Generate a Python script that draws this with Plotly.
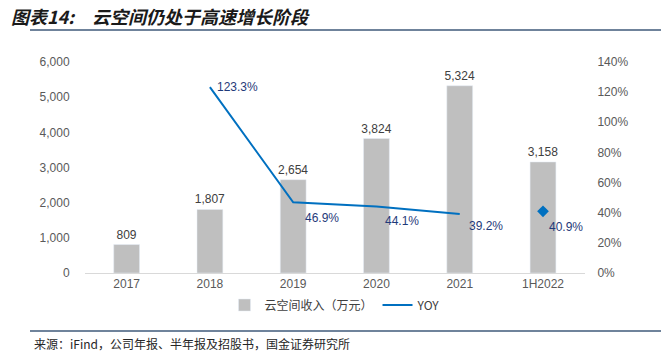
import plotly.graph_objects as go

categories = ["2017", "2018", "2019", "2020", "2021", "1H2022"]
revenue = [809, 1807, 2654, 3824, 5324, 3158]
yoy_line = [None, 1.233, 0.469, 0.441, 0.392, None]
yoy_point = [None, None, None, None, None, 0.409]
# label offsets (px) for YOY labels
yoy_xshift = [0, 5, 10, 7, 7, 4]
yoy_yshift = [0, 0, -16, -14, -12, -16]

FONT = "Liberation Sans, Arial, sans-serif"
CJK = "Noto Sans CJK SC, sans-serif"

OFF = 8  # default page body margin
W, H = 669 - OFF, 360 - OFF
# plot area in reference page pixels
PX0, PX1, PY0, PY1 = 85, 585, 62, 273
L, R, T, B = PX0 - OFF, W - (PX1 - OFF), PY0 - OFF, H - (PY1 - OFF)
pw, ph = PX1 - PX0, PY1 - PY0


def px_x(p):
    return (p - PX0) / pw


def px_y(p):
    return (PY1 - p) / ph


fig = go.Figure()
fig.add_trace(go.Bar(
    x=categories, y=revenue, name="云空间收入（万元）",
    marker=dict(color="#BFBFBF"), width=0.31,
    text=[f"{v:,}" for v in revenue], textposition="outside", constraintext="none",
    textfont=dict(color="#404040", size=12, family=FONT),
    cliponaxis=False,
))
fig.add_trace(go.Scatter(
    x=categories, y=yoy_line, name="YOY", yaxis="y2", mode="lines",
    line=dict(color="#0070C0", width=2),
    cliponaxis=False,
))
fig.add_trace(go.Scatter(
    x=categories, y=yoy_point, yaxis="y2", mode="markers", showlegend=False,
    marker=dict(symbol="diamond", color="#0070C0", size=9),
    cliponaxis=False,
))

annotations = []
for i, c in enumerate(categories):
    v = yoy_line[i] if yoy_line[i] is not None else yoy_point[i]
    if v is None:
        continue
    annotations.append(dict(
        x=i, y=v, xref="x", yref="y2", text=f"{v*100:.1f}%", showarrow=False,
        xanchor="left", yanchor="middle", xshift=yoy_xshift[i], yshift=yoy_yshift[i],
        font=dict(color="#1F3A7A", size=12, family=FONT),
    ))

annotations += [
    dict(text="<b><i>图表14:　云空间仍处于高速增长阶段</i></b>", xref="paper", yref="paper",
         x=px_x(9), y=px_y(16), xanchor="left", yanchor="middle", showarrow=False,
         font=dict(family=CJK, size=18, color="#1a1a1a")),
    dict(text="来源：iFind，公司年报、半年报及招股书，国金证券研究所", xref="paper", yref="paper",
         x=px_x(32), y=px_y(343), xanchor="left", yanchor="middle", showarrow=False,
         font=dict(family=CJK, size=12, color="#262626")),
]

fig.update_layout(
    width=W, height=H,
    margin=dict(l=L, r=R, t=T, b=B, autoexpand=False),
    paper_bgcolor="white", plot_bgcolor="white",
    font=dict(family=FONT, color="#595959", size=12),
    xaxis=dict(
        type="category",
        showgrid=False, showline=True, linecolor="#D9D9D9", linewidth=1,
        tickfont=dict(size=12, color="#595959"), ticks="", zeroline=False,
        automargin=False,
    ),
    yaxis=dict(
        range=[0, 6000], dtick=1000, tickformat=",", showgrid=False, zeroline=False,
        ticks="outside", ticklen=12, tickcolor="rgba(0,0,0,0)",
        tickfont=dict(size=12, color="#595959"), automargin=False,
    ),
    yaxis2=dict(
        range=[0, 1.4], dtick=0.2, tickformat=".0%", overlaying="y", side="right",
        showgrid=False, zeroline=False,
        ticks="outside", ticklen=9, tickcolor="rgba(0,0,0,0)",
        tickfont=dict(size=12, color="#595959"), automargin=False,
    ),
    legend=dict(
        orientation="h", x=0.5, xanchor="center", y=px_y(305), yanchor="middle",
        font=dict(family=CJK, size=12, color="#404040"),
        itemwidth=30, tracegroupgap=0,
    ),
    shapes=[
        dict(type="line", xref="paper", yref="paper", x0=px_x(30), x1=px_x(669),
             y0=px_y(30), y1=px_y(30), line=dict(color="#3F5A7A", width=1.5)),
        dict(type="line", xref="paper", yref="paper", x0=px_x(30), x1=px_x(669),
             y0=px_y(331), y1=px_y(331), line=dict(color="#3F5A7A", width=1.5)),
    ],
    annotations=annotations,
)

fig.write_html("out.html")
